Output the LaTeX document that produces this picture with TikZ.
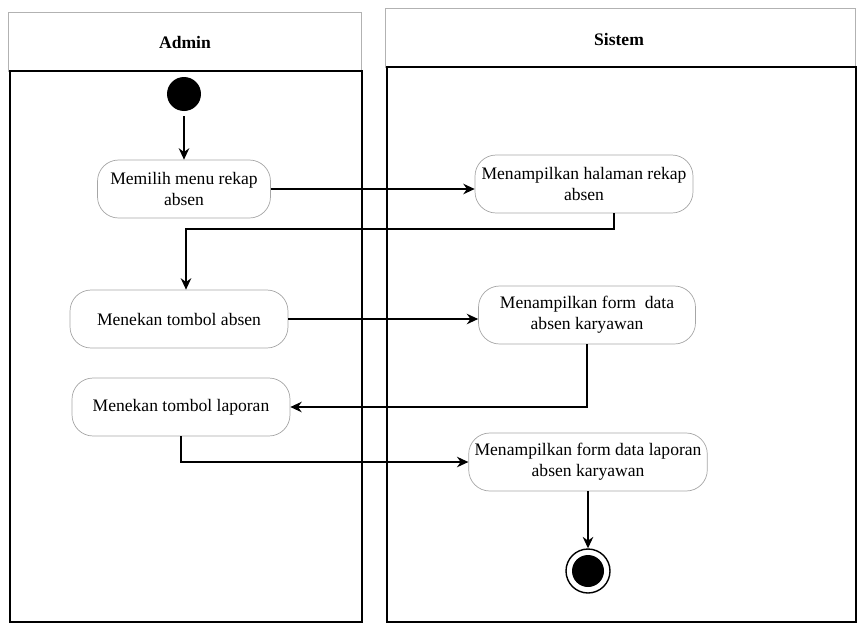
\documentclass[tikz,border=0pt]{standalone}
\usepackage{fontspec}
\setmainfont{Liberation Serif}
\usetikzlibrary{arrows.meta}

\begin{document}
\begin{tikzpicture}[>={Stealth[length=6.5pt, width=6pt]}, x=0.02cm, y=-0.02cm,
	act/.style={draw=gray!70, rounded corners=12pt, align=center, minimum height=1.16cm, font=\fontsize{10}{12}\selectfont},
	lane/.style={line width=1.2pt},
	head/.style={draw=gray!60},
	flow/.style={->, line width=0.8pt}]
	\useasboundingbox (0,0) rectangle (858,626);

	% swimlanes
	\draw[head] (8,12) rectangle (361,71);
	\node[font=\bfseries] (admin) at (185,42) {Admin};
	\draw[lane] (10,71) rectangle (362,622);
	\draw[head] (385,8) rectangle (855,67);
	\node[font=\bfseries] (sistem) at (619,39) {Sistem};
	\draw[lane] (387,67) rectangle (856,622);

	\node[circle, fill, inner sep=0, minimum size=0.68cm] (start) at (184,94) {};
	\node[act, minimum width=3.46cm] (pilih) at (184,189) {Memilih menu rekap\\absen};
	\node[act, minimum width=4.36cm] (rekap) at (584,184) {Menampilkan halaman rekap\\absen};
	\node[act, minimum width=4.36cm] (absen) at (179,319) {Menekan tombol absen};
	\node[act, minimum width=4.34cm] (formabsen) at (587,315) {Menampilkan form\ \ data\\absen karyawan};
	\node[act, minimum width=4.36cm] (laporan) at (181,407) {Menekan tombol laporan};
	\node[act, minimum width=4.7cm] (formlaporan) at (588,462) {Menampilkan form data laporan\\absen karyawan};
	\node[circle, draw, thick, inner sep=0, minimum size=0.88cm] (end) at (588,571) {};
	\fill (end) circle [radius=0.32cm];

	\coordinate (belok) at (186,229);

	\draw[flow] ([yshift=-0.1cm]start.south) -- (pilih);
	\draw[flow] (pilih.east) -- (pilih.east -| rekap.west);
	\draw[flow] ([xshift=0.6cm]rekap.south) |- (belok) -- (belok |- absen.north);
	\draw[flow] (absen.east) -- (absen.east -| formabsen.west);
	\draw[flow] (formabsen.south) |- (laporan.east);
	\draw[flow] (laporan.south) |- (formlaporan.west);
	\draw[flow] (formlaporan) -- (end);
\end{tikzpicture}
\end{document}
